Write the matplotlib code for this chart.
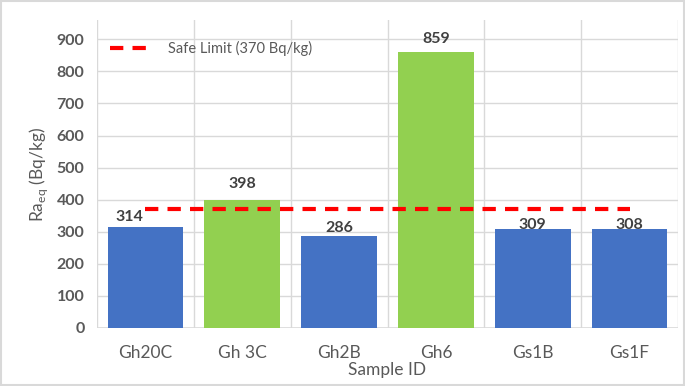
import matplotlib
matplotlib.use("Agg")
import matplotlib.pyplot as plt
from matplotlib.patches import Rectangle

# chart data
samples = ["Gh20C", "Gh 3C", "Gh2B", "Gh6", "Gs1B", "Gs1F"]
ra_eq = [314, 398, 286, 859, 309, 308]
safe_limit = 370
y_ticks = [0, 100, 200, 300, 400, 500, 600, 700, 800, 900]

BLUE = "#4472C4"
GREEN = "#92D050"
GRID = "#D9D9D9"
TXT = "#595959"

plt.rcParams['font.family'] = ['Lato', 'DejaVu Sans']

fig = plt.figure(figsize=(6.85, 3.86), dpi=100)
ax = fig.add_axes([0.1416, 0.1503, 0.8482, 0.7977])

colors = [GREEN if v > safe_limit else BLUE for v in ra_eq]
x = list(range(len(samples)))
bars = ax.bar(x, ra_eq, width=0.78, color=colors, zorder=2)

# safe limit from first to last bar centre
ax.plot([x[0], x[-1]], [safe_limit, safe_limit], color="#FF0000", lw=3,
        dashes=(3.2, 2.2), zorder=3, label=f"Safe Limit ({safe_limit} Bq/kg)")

# value labels (nudged like the original)
dx = [-0.17, 0, 0, 0, 0, 0]
dy = [2, 7, 1, 5, -2, -2]
for i, v in enumerate(ra_eq):
    ax.annotate(str(v), (x[i] + dx[i], v), xytext=(0, dy[i]),
                textcoords="offset points", ha="center", va="bottom",
                fontsize=11.5, fontweight="bold", color="#404040", zorder=4)

ax.set_xlim(-0.5, len(samples) - 0.5)
ax.set_ylim(0, 960)
ax.set_yticks(y_ticks)
ax.set_xticks(x)
ax.set_xticklabels(samples)

# gridlines: horizontal at ticks, vertical at category boundaries
for t in y_ticks[1:]:
    ax.axhline(t, color=GRID, lw=1, zorder=1)
for b in range(len(samples) + 1):
    ax.axvline(b - 0.5, color=GRID, lw=1, zorder=1)

for s in ax.spines.values():
    s.set_visible(False)
ax.axhline(0, color=GRID, lw=1.2, zorder=1)

ax.tick_params(axis="both", length=0, colors=TXT)
ax.tick_params(axis="y", labelsize=11.5, pad=9)
ax.tick_params(axis="x", labelsize=12.5, pad=12)
for lab in ax.get_yticklabels():
    lab.set_fontweight("bold")

ax.set_xlabel("Sample ID", fontsize=12.5, color=TXT, labelpad=1)
ax.set_ylabel(r"Ra$_{\mathregular{eq}}$ (Bq/kg)", fontsize=12.5, color=TXT, labelpad=5)

leg = ax.legend(loc="upper left", bbox_to_anchor=(0.0, 0.975), frameon=False,
                fontsize=10.5, handlelength=3.0, handletextpad=1.0)
for t in leg.get_texts():
    t.set_color(TXT)

# outer frame
fig.patches.append(Rectangle((0.002, 0.003), 0.996, 0.994, transform=fig.transFigure,
                             fill=False, edgecolor=GRID, lw=1.5))

fig.savefig("out.png", dpi=100)
